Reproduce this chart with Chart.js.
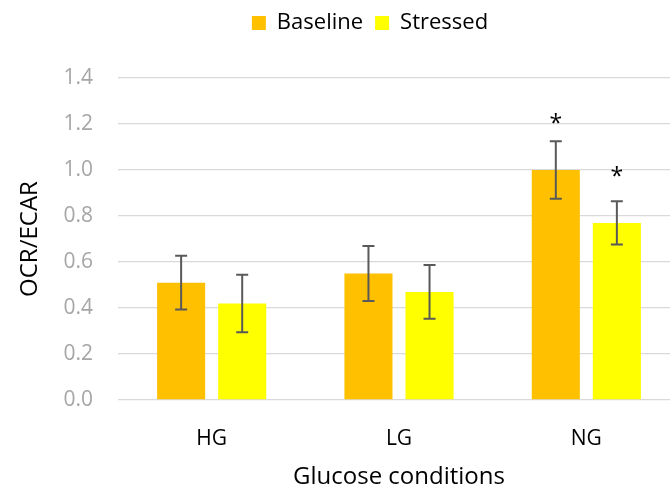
<!DOCTYPE html>
<html>
<head>
<meta charset="utf-8">
<script src="https://cdn.jsdelivr.net/npm/chart.js@4"></script>
<style>
  html, body { margin: 0; padding: 0; background: #fff; overflow: hidden; }
  #wrap { width: 680px; height: 489px; }
</style>
</head>
<body>
<div id="wrap"><canvas id="barChart"></canvas></div>
<script>
const categories = ['HG', 'LG', 'NG'];
const baseline = [0.51, 0.55, 1.00];
const stressed = [0.42, 0.47, 0.77];
const baselineErr = [0.117, 0.12, 0.125];
const stressedErr = [0.125, 0.117, 0.094];
const baselineSig = ['', '', '*'];
const stressedSig = ['', '', '*'];
const yTicks = [0, 0.2, 0.4, 0.6, 0.8, 1.0, 1.2, 1.4];

const FONT = "'Open Sans', 'Noto Sans', sans-serif";

// error bars + significance marks, drawn through the chart's own scales
const errorBars = {
  id: 'errorBars',
  afterDatasetsDraw(chart) {
    const ctx = chart.ctx;
    const y = chart.scales.y;
    chart.data.datasets.forEach((ds, i) => {
      const meta = chart.getDatasetMeta(i);
      meta.data.forEach((bar, j) => {
        const v = ds.data[j];
        const e = ds.errors[j];
        const top = y.getPixelForValue(v + e);
        const bot = y.getPixelForValue(v - e);
        ctx.save();
        ctx.strokeStyle = '#595959';
        ctx.lineWidth = 2;
        ctx.beginPath();
        ctx.moveTo(bar.x, top); ctx.lineTo(bar.x, bot);
        ctx.moveTo(bar.x - 6, top); ctx.lineTo(bar.x + 6, top);
        ctx.moveTo(bar.x - 6, bot); ctx.lineTo(bar.x + 6, bot);
        ctx.stroke();
        if (ds.sig[j]) {
          // star sits a fixed distance above the bar top
          ctx.fillStyle = '#000';
          ctx.font = '23px ' + FONT;
          ctx.textAlign = 'center';
          ctx.textBaseline = 'alphabetic';
          ctx.fillText(ds.sig[j], bar.x, bar.y - 39);
        }
        ctx.restore();
      });
    });
  }
};

// more room under the legend, and nudge it right a little
const legendGap = {
  id: 'legendGap',
  beforeInit(chart) {
    const fit = chart.legend.fit;
    chart.legend.fit = function () {
      fit.bind(chart.legend)();
      this.height += 34;
    };
  },
  afterLayout(chart) {
    chart.legend.left += 25;
    chart.legend.right += 25;
  }
};

const ctx = document.getElementById('barChart').getContext('2d');
const barChart = new Chart(ctx, {
  type: 'bar',
  data: {
    labels: categories,
    datasets: [
      {
        label: 'Baseline',
        data: baseline,
        errors: baselineErr,
        sig: baselineSig,
        backgroundColor: '#FFC000',
        categoryPercentage: 0.652,
        barPercentage: 0.787
      },
      {
        label: 'Stressed',
        data: stressed,
        errors: stressedErr,
        sig: stressedSig,
        backgroundColor: '#FFFF00',
        categoryPercentage: 0.652,
        barPercentage: 0.787
      }
    ]
  },
  plugins: [errorBars, legendGap],
  options: {
    responsive: true,
    maintainAspectRatio: false,
    animation: false,
    layout: { padding: { left: 10, top: 0, right: 0, bottom: 0 } },
    plugins: {
      legend: {
        position: 'top',
        labels: {
          font: { family: FONT, size: 22 },
          color: '#000',
          boxWidth: 14,
          boxHeight: 14,
          padding: 12
        }
      },
      tooltip: { enabled: false }
    },
    scales: {
      x: {
        afterFit(axis) { axis.height = 89; },
        grid: { display: false },
        border: { display: false },
        ticks: { font: { family: FONT, size: 21 }, color: '#000', padding: 18 },
        title: {
          display: true,
          text: 'Glucose conditions',
          font: { family: FONT, size: 24, lineHeight: 1.0 },
          color: '#000',
          padding: { top: 0, bottom: 0 }
        }
      },
      y: {
        min: 0,
        max: 1.4,
        afterBuildTicks(axis) { axis.ticks = yTicks.map(v => ({ value: v })); },
        afterFit(axis) { axis.width = 108; },
        grid: { color: '#d9d9d9', lineWidth: 1.3, drawTicks: false },
        border: { display: false },
        ticks: {
          font: { family: FONT, size: 21 },
          color: '#a6a6a6',
          padding: 25,
          callback: v => v.toFixed(1)
        },
        title: {
          display: true,
          text: 'OCR/ECAR',
          font: { family: FONT, size: 24 },
          color: '#000',
          padding: { top: 6, bottom: 0 }
        }
      }
    }
  }
});
</script>
</body>
</html>
